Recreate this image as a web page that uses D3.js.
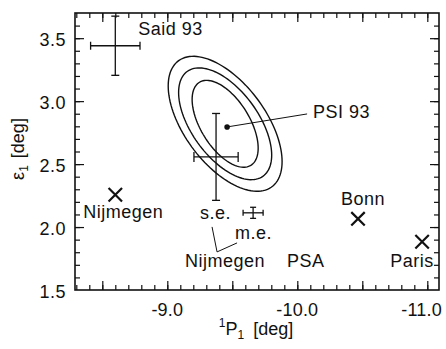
<!DOCTYPE html>
<html>
<head>
<meta charset="utf-8">
<script src="https://cdn.jsdelivr.net/npm/d3@7"></script>
<style>
  body { margin: 0; background: #fff; }
  svg text { font-family: "Liberation Sans", Arial, Helvetica, sans-serif; fill: #111; }
</style>
</head>
<body>
<div id="chart"></div>
<script>
// tick labels
const xMajorTicks = [-9.0, -10.0, -11.0];
const yMajorTicks = [1.5, 2.0, 2.5, 3.0, 3.5];

// measurements with error bars  [x, y, xErr, yErr]
const errorNames = ["Said 93", "Nijmegen PSA s.e.", "Nijmegen PSA m.e."];
const errorX    = [-8.60, -9.375, -9.66];
const errorY    = [3.44, 2.557, 2.113];
const errorXErr = [0.19, 0.17, 0.077];
const errorYErr = [0.235, 0.345, 0.044];

// single points (crosses)
const crossNames = ["Nijmegen", "Bonn", "Paris"];
const crossX = [-8.60, -10.467, -10.96];
const crossY = [2.256, 2.065, 1.883];

// PSI 93 fit + confidence contours
const psiPoint = [-9.46, 2.795];
const ellipseCenter = [-9.445, 2.82];
const ellipseRx = [0.254, 0.358, 0.438];
const ellipseRy = [0.345, 0.444, 0.536];
const ellipseRho = 0.56;

const W = 446, H = 349;
const margin = {top: 13, right: 7, bottom: 59, left: 75};

const svg = d3.select("#chart").append("svg")
  .attr("width", W).attr("height", H);

const x = d3.scaleLinear().domain([-8.29, -11.09]).range([margin.left, W - margin.right]);
const y = d3.scaleLinear().domain([1.5, 3.70]).range([H - margin.bottom, margin.top]);

const minorX = d3.range(83, 111).map(i => -i / 10);
const midX = d3.range(17, 23).map(i => -i / 2);
const minorY = d3.range(16, 37).map(i => i / 10);
const midY = d3.range(4, 8).map(i => i / 2);

const ink = "#111";

//draw the ticks on all four sides, pointing inward
function ticks(axisFn, scale, vals, size, transform) {
  svg.append("g")
    .attr("transform", transform)
    .call(axisFn(scale).tickValues(vals).tickSize(-size).tickFormat(""))
    .call(g => g.select(".domain").remove())
    .call(g => g.selectAll("line").attr("stroke", ink).attr("stroke-width", 1.2));
}
const bottomY = y.range()[0], topY = y.range()[1];
const leftX = x.range()[0], rightX = x.range()[1];
ticks(d3.axisBottom, x, minorX, 5, `translate(0,${bottomY})`);
ticks(d3.axisBottom, x, midX, 9, `translate(0,${bottomY})`);
ticks(d3.axisTop, x, minorX, 5, `translate(0,${topY})`);
ticks(d3.axisTop, x, midX, 9, `translate(0,${topY})`);
ticks(d3.axisLeft, y, minorY, 5, `translate(${leftX},0)`);
ticks(d3.axisLeft, y, midY, 9, `translate(${leftX},0)`);
ticks(d3.axisRight, y, minorY, 5, `translate(${rightX},0)`);
ticks(d3.axisRight, y, midY, 9, `translate(${rightX},0)`);

// frame
svg.append("rect")
  .attr("x", leftX).attr("y", topY)
  .attr("width", rightX - leftX).attr("height", bottomY - topY)
  .attr("fill", "none").attr("stroke", ink).attr("stroke-width", 1.6);

// tick labels (keep the last one inside the window, as in the original)
svg.append("g").selectAll("text").data(xMajorTicks).join("text")
  .attr("y", bottomY + 26)
  .attr("text-anchor", "middle").attr("font-size", 18).attr("letter-spacing", 0.2)
  .text(d => d.toFixed(1))
  .attr("x", function(d) {
    const half = this.getComputedTextLength() / 2;
    return Math.min(x(d), W - 4 - half);
  });
svg.append("g").selectAll("text").data(yMajorTicks).join("text")
  .attr("x", leftX - 9).attr("y", d => y(d) + 8)
  .attr("text-anchor", "end").attr("font-size", 18).attr("letter-spacing", 0.5)
  .text(d => d.toFixed(1));

// axis titles
const xt = svg.append("text")
  .attr("x", 256).attr("y", 335)
  .attr("text-anchor", "middle").attr("font-size", 18);
xt.append("tspan").attr("font-size", 12).attr("dy", -8).text("1");
xt.append("tspan").attr("dy", 8).text("P");
xt.append("tspan").attr("font-size", 12).attr("dy", 4).text("1");
xt.append("tspan").attr("dy", -4).attr("dx", 9).text("[deg]");

const yt = svg.append("text")
  .attr("transform", "translate(24,149) rotate(-90)")
  .attr("text-anchor", "middle").attr("font-size", 18);
yt.append("tspan").text("\u03b5");
yt.append("tspan").attr("font-size", 12).attr("dy", 4).text("1");
yt.append("tspan").attr("dy", -4).attr("dx", 7).text("[deg]");

// confidence ellipses
const ang = d3.range(0, 361, 3).map(a => a * Math.PI / 180);
const line = d3.line().x(p => x(p[0])).y(p => y(p[1]));
ellipseRx.forEach((rx, i) => {
  const ry = ellipseRy[i];
  const pts = ang.map(t => [
    ellipseCenter[0] + rx * Math.cos(t),
    ellipseCenter[1] + ry * (ellipseRho * Math.cos(t) + Math.sqrt(1 - ellipseRho * ellipseRho) * Math.sin(t))
  ]);
  svg.append("path").attr("d", line(pts))
    .attr("fill", "none").attr("stroke", ink).attr("stroke-width", 1.4);
});

// error bars
const caps = [[4, 4], [4, 5], [3, 3]];
errorX.forEach((cx, i) => {
  const g = svg.append("g").attr("stroke", ink).attr("stroke-width", 1.3);
  const x0 = x(cx - errorXErr[i]), x1 = x(cx + errorXErr[i]);
  const y0 = y(errorY[i] - errorYErr[i]), y1 = y(errorY[i] + errorYErr[i]);
  const px = x(cx), py = y(errorY[i]);
  const [cw, ch] = caps[i];
  g.append("line").attr("x1", x0).attr("x2", x1).attr("y1", py).attr("y2", py);
  g.append("line").attr("x1", px).attr("x2", px).attr("y1", y0).attr("y2", y1);
  g.append("line").attr("x1", x0).attr("x2", x0).attr("y1", py - ch).attr("y2", py + ch);
  g.append("line").attr("x1", x1).attr("x2", x1).attr("y1", py - ch).attr("y2", py + ch);
  g.append("line").attr("x1", px - cw).attr("x2", px + cw).attr("y1", y0).attr("y2", y0);
  g.append("line").attr("x1", px - cw).attr("x2", px + cw).attr("y1", y1).attr("y2", y1);
});

// crosses
svg.append("g").selectAll("path").data(crossX).join("path")
  .attr("transform", (d, i) => `translate(${x(d)},${y(crossY[i])})`)
  .attr("d", d3.symbol().type(d3.symbolX).size(120))
  .attr("fill", "none").attr("stroke", ink).attr("stroke-width", 2.2);

// PSI 93 point and leader
svg.append("circle")
  .attr("cx", x(psiPoint[0])).attr("cy", y(psiPoint[1])).attr("r", 2.8).attr("fill", ink);
svg.append("line")
  .attr("x1", x(psiPoint[0])).attr("y1", y(psiPoint[1]))
  .attr("x2", x(psiPoint[0]) + 80).attr("y2", y(psiPoint[1]) - 13)
  .attr("stroke", ink).attr("stroke-width", 1);

// labels
const label = (txt, px, py, anchor) => svg.append("text")
  .attr("x", px).attr("y", py).attr("text-anchor", anchor || "start")
  .attr("font-size", 18).attr("letter-spacing", 0.5).text(txt);

label("Said 93", x(errorX[0]) + 23, y(errorY[0]) - 11);
label("PSI 93", x(psiPoint[0]) + 86, y(psiPoint[1]) - 9);
label("Nijmegen", x(crossX[0]) - 32, y(crossY[0]) + 23);
label("Bonn", x(crossX[1]) + 5, y(crossY[1]) - 14, "middle");
label("Paris", x(crossX[2]) - 10, y(crossY[2]) + 25, "middle");
label("s.e.", x(errorX[1]) - 16, y(errorY[1]) + 62);
label("m.e.", x(errorX[2]) - 18, y(errorY[2]) + 26);
label("Nijmegen", x(errorX[1]) - 31, y(errorY[1]) + 110);
label("PSA", x(errorX[1]) + 71, y(errorY[1]) + 110);

// leaders from "Nijmegen PSA" to s.e. and m.e.
const vx = x(errorX[1]) + 1, vy = y(errorY[1]) + 95;
svg.append("path")
  .attr("d", `M${vx - 5},${vy - 25}L${vx},${vy}L${vx + 20},${vy - 9}`)
  .attr("fill", "none").attr("stroke", ink).attr("stroke-width", 1);
</script>
</body>
</html>
